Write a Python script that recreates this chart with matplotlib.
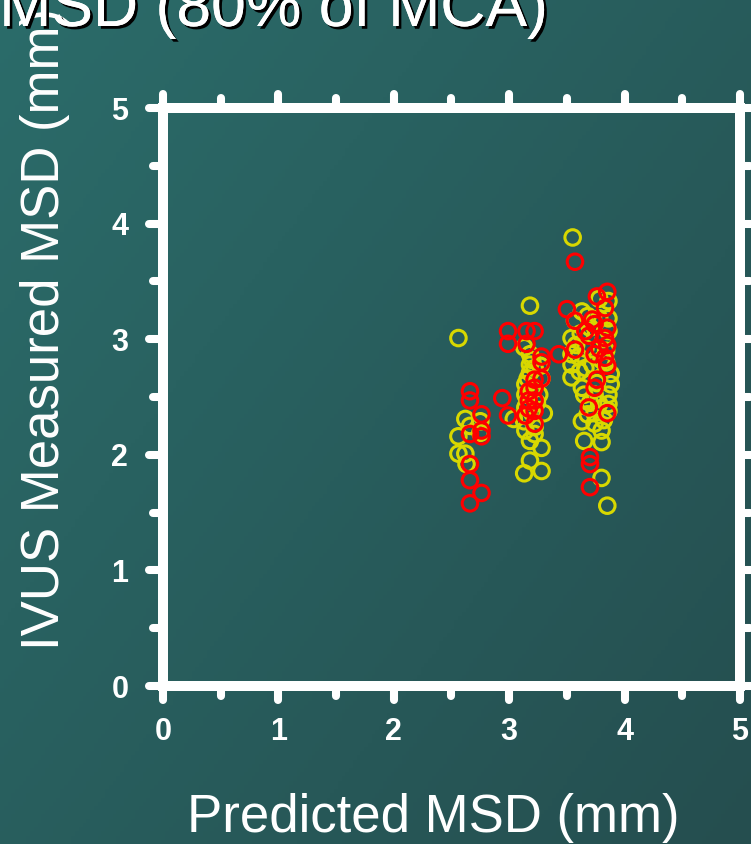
import numpy as np
import matplotlib
matplotlib.use("Agg")
import matplotlib.pyplot as plt
from matplotlib.markers import MarkerStyle
import matplotlib.patheffects as pe

# ---------------- data ----------------
yellow_x = [2.56, 2.62, 2.56, 2.75, 2.75, 2.56, 2.62, 2.63, 2.66,
            3.18, 3.18, 3.18, 3.18, 3.14, 3.14, 3.14, 3.13, 3.14, 3.18, 3.28, 3.18, 3.28, 3.13,
            3.04, 3.30, 3.28, 3.20, 3.22, 3.16, 3.20, 3.16, 3.20, 3.16, 3.22, 3.24, 3.26, 3.22, 3.27, 3.13,
            3.55, 3.63, 3.57, 3.54, 3.54, 3.54, 3.54, 3.63, 3.65, 3.74, 3.86, 3.63, 3.74, 3.80, 3.65,
            3.80, 3.80, 3.85, 3.86, 3.86, 3.86, 3.88, 3.88, 3.86, 3.86, 3.74, 3.72, 3.66, 3.66, 3.78,
            3.78, 3.61, 3.68, 3.70, 3.62, 3.82, 3.84, 3.80, 3.76, 3.84, 3.70, 3.82, 3.68, 3.78, 3.60, 3.58]
yellow_y = [3.01, 2.31, 2.16, 2.29, 2.19, 2.01, 2.01, 1.92, 2.25,
            3.29, 2.87, 2.78, 2.71, 2.61, 2.52, 2.41, 2.29, 2.21, 2.12, 2.06, 1.95, 1.86, 1.84,
            2.31, 2.36, 2.66, 2.82, 2.75, 2.66, 2.56, 2.47, 2.36, 2.33, 2.24, 2.45, 2.52, 2.18, 2.77, 2.93,
            3.88, 3.24, 3.16, 3.01, 2.87, 2.78, 2.67, 2.58, 2.52, 2.52, 2.52, 2.29, 2.27, 2.21, 2.12,
            2.11, 1.80, 1.56, 3.33, 3.18, 3.07, 2.70, 2.61, 2.44, 2.38, 2.36, 2.78, 2.75, 2.92, 3.18,
            3.35, 2.72, 3.20, 3.10, 3.05, 3.00, 2.90, 2.82, 2.62, 2.80, 2.45, 2.30, 2.35, 2.44, 2.85, 2.95]

red_x = [2.66, 2.66, 2.76, 2.76, 2.66, 2.76, 2.66, 2.66, 2.76, 2.66,
         2.94, 2.99, 2.99, 2.99, 3.15, 3.22, 3.15,
         3.28, 3.28, 3.43, 3.22, 3.28, 3.22, 3.17, 3.17, 3.22, 3.17, 3.22, 3.14, 3.22,
         3.57, 3.85, 3.76, 3.50, 3.57, 3.72, 3.83, 3.85, 3.66, 3.69, 3.74, 3.83, 3.85, 3.78,
         3.74, 3.83, 3.85, 3.57, 3.76, 3.74, 3.69, 3.85, 3.70, 3.70, 3.70]
red_y = [2.55, 2.47, 2.35, 2.21, 2.18, 2.16, 1.92, 1.78, 1.67, 1.58,
         2.49, 2.34, 3.07, 2.96, 3.07, 3.07, 2.96,
         2.85, 2.80, 2.87, 2.65, 2.66, 2.58, 2.55, 2.47, 2.47, 2.40, 2.38, 2.34, 2.27,
         3.67, 3.41, 3.37, 3.26, 3.16, 3.17, 3.27, 3.10, 3.07, 3.03, 3.13, 3.01, 2.95, 2.92,
         2.87, 2.84, 2.77, 2.91, 2.65, 2.58, 2.41, 2.36, 1.98, 1.92, 1.72]

ticks = [0, 1, 2, 3, 4, 5]
tick_labels = ["0", "1", "2", "3", "4", "5"]
minor_ticks = [0.5, 1.5, 2.5, 3.5, 4.5]

title_text = "MSD (80% of MCA)"
xlabel_text = "Predicted MSD (mm)"
ylabel_text = "IVUS Measured MSD (mm)"

# ---------------- figure ----------------
W, H = 751, 844
fig = plt.figure(figsize=(W / 100, H / 100), dpi=100)

# gradient background
bg = fig.add_axes([0, 0, 1, 1], zorder=-10)
gx, gy = np.meshgrid(np.linspace(0, 1, 200), np.linspace(0, 1, 200))
t = np.clip(0.55 * gx + 0.45 * gy, 0, 1)
c0 = np.array([43, 108, 106]) / 255.0
c1 = np.array([37, 78, 79]) / 255.0
img = c0[None, None, :] * (1 - t[..., None]) + c1[None, None, :] * t[..., None]
bg.imshow(img, aspect="auto", extent=[0, 1, 0, 1], origin="upper")
bg.set_axis_off()

left = 163 / W
right = 740 / W
bottom = (H - 686) / H
top = (H - 108) / H
ax = fig.add_axes([left, bottom, right - left, top - bottom])
ax.patch.set_alpha(0)

ax.scatter(yellow_x, yellow_y, s=125, facecolors="none", edgecolors="#d8d800",
           linewidths=2.2, zorder=3, clip_on=False)
ax.scatter(red_x, red_y, s=125, facecolors="none", edgecolors="#ff0000",
           linewidths=2.2, zorder=4, clip_on=False)

ax.set_xlim(0, 5)
ax.set_ylim(0, 5)
ax.set_xticks(ticks)
ax.set_xticklabels(tick_labels)
ax.set_yticks(ticks)
ax.set_yticklabels(tick_labels)
ax.set_xticks(minor_ticks, minor=True)
ax.set_yticks(minor_ticks, minor=True)

for s in ax.spines.values():
    s.set_color("white")
    s.set_linewidth(7.2)
    s.set_capstyle("projecting")

ax.tick_params(which="both", direction="out", colors="white",
               top=True, right=True, bottom=True, left=True, width=5.8)
ax.tick_params(which="major", length=10)
ax.tick_params(which="minor", length=7.5)
ax.tick_params(axis="x", which="major", pad=12, labelsize=22)
ax.tick_params(axis="y", which="major", pad=15, labelsize=22)
for lab in ax.get_xticklabels() + ax.get_yticklabels():
    lab.set_fontweight("bold")
    lab.set_fontfamily(["Liberation Sans", "DejaVu Sans"])
    lab.set_color("white")

for axis in (ax.xaxis, ax.yaxis):
    for tk in axis.get_major_ticks() + axis.get_minor_ticks():
        for ln in (tk.tick1line, tk.tick2line):
            ln.set_marker(MarkerStyle(ln.get_marker(), capstyle="round"))

font = ["Liberation Sans", "DejaVu Sans"]
fig.text(433 / W, 1 - 818 / H, xlabel_text, color="white", fontsize=38,
         family=font, ha="center", va="center")
fig.text(45 / W, 1 - 329 / H, ylabel_text, color="white", fontsize=38,
         family=font, ha="center", va="center", rotation=90)
fig.text(548 / W, 1 - 26 / H, title_text, color="white", fontsize=45,
         family=font, ha="right", va="baseline",
         path_effects=[pe.withSimplePatchShadow(offset=(2, -2), shadow_rgbFace="black", alpha=1.0),
                       pe.Normal()])

fig.savefig("out.png", dpi=100)
